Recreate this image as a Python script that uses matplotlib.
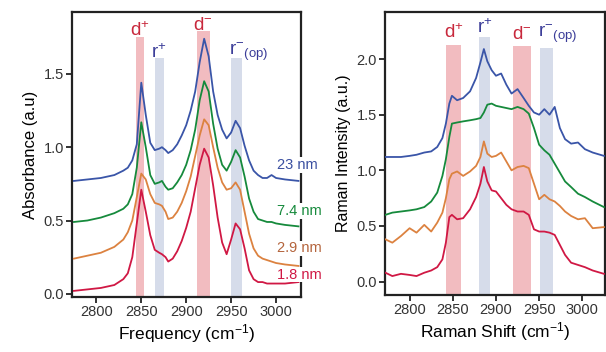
import matplotlib
matplotlib.use("Agg")
import matplotlib.pyplot as plt

plt.rcParams['font.family'] = ['Liberation Sans', 'DejaVu Sans']
plt.rcParams['mathtext.fontset'] = 'custom'
plt.rcParams['mathtext.rm'] = 'Liberation Sans'
plt.rcParams['mathtext.it'] = 'Liberation Sans:italic'

# --- IR absorbance (left) ---
ir_x = [2775, 2790, 2805, 2820, 2830, 2835, 2840, 2845, 2850, 2855, 2860, 2865, 2870, 2873,
        2877, 2880, 2885, 2890, 2895, 2900, 2905, 2910, 2915, 2920, 2925, 2930, 2935, 2940,
        2945, 2950, 2955, 2960, 2965, 2970, 2975, 2980, 2985, 2990, 2995, 3000, 3010, 3025]
ir_23 = [0.77, 0.78, 0.79, 0.81, 0.84, 0.86, 0.91, 1.02, 1.44, 1.22, 1.03, 0.98, 0.99, 1.00,
         0.98, 0.96, 0.98, 1.02, 1.08, 1.15, 1.25, 1.38, 1.58, 1.74, 1.62, 1.38, 1.22, 1.12,
         1.06, 1.10, 1.18, 1.13, 1.01, 0.91, 0.84, 0.81, 0.79, 0.79, 0.81, 0.79, 0.78, 0.77]
ir_74 = [0.49, 0.50, 0.52, 0.55, 0.58, 0.61, 0.68, 0.86, 1.17, 1.00, 0.81, 0.75, 0.76, 0.77,
         0.73, 0.71, 0.72, 0.76, 0.81, 0.88, 0.98, 1.12, 1.32, 1.45, 1.38, 1.16, 0.99, 0.88,
         0.84, 0.90, 0.98, 0.93, 0.80, 0.65, 0.56, 0.51, 0.50, 0.49, 0.49, 0.48, 0.47, 0.46]
ir_29 = [0.24, 0.26, 0.28, 0.32, 0.37, 0.42, 0.50, 0.66, 0.82, 0.78, 0.68, 0.62, 0.61, 0.60,
         0.56, 0.51, 0.52, 0.56, 0.62, 0.70, 0.80, 0.94, 1.08, 1.19, 1.15, 1.00, 0.86, 0.76,
         0.71, 0.72, 0.76, 0.71, 0.56, 0.41, 0.31, 0.26, 0.24, 0.23, 0.22, 0.21, 0.20, 0.19]
ir_18 = [0.02, 0.03, 0.04, 0.06, 0.10, 0.14, 0.25, 0.48, 0.71, 0.56, 0.40, 0.30, 0.28, 0.27,
         0.25, 0.22, 0.24, 0.29, 0.36, 0.45, 0.56, 0.72, 0.88, 0.99, 0.93, 0.74, 0.52, 0.35,
         0.27, 0.37, 0.48, 0.44, 0.31, 0.16, 0.10, 0.08, 0.08, 0.07, 0.07, 0.07, 0.07, 0.08]

# --- Raman (right) ---
ra_x = [2772, 2780, 2790, 2800, 2808, 2817, 2825, 2832, 2838, 2842, 2846, 2849, 2855, 2862,
        2870, 2877, 2882, 2886, 2890, 2895, 2900, 2906, 2912, 2918, 2925, 2932, 2938, 2944,
        2950, 2956, 2962, 2968, 2974, 2980, 2987, 2995, 3003, 3012, 3025]
ra_23 = [1.12, 1.12, 1.12, 1.13, 1.14, 1.16, 1.17, 1.21, 1.29, 1.42, 1.60, 1.67, 1.63, 1.65,
         1.71, 1.83, 1.97, 2.09, 1.98, 1.90, 1.85, 1.87, 1.77, 1.69, 1.73, 1.65, 1.58, 1.52,
         1.50, 1.55, 1.50, 1.57, 1.38, 1.28, 1.24, 1.25, 1.19, 1.16, 1.13]
ra_74 = [0.60, 0.62, 0.63, 0.64, 0.65, 0.67, 0.72, 0.80, 0.95, 1.10, 1.30, 1.42, 1.43, 1.44,
         1.45, 1.46, 1.47, 1.52, 1.59, 1.60, 1.58, 1.57, 1.56, 1.55, 1.57, 1.55, 1.51, 1.38,
         1.23, 1.18, 1.14, 1.06, 0.98, 0.90, 0.85, 0.79, 0.76, 0.72, 0.67]
ra_29 = [0.38, 0.35, 0.41, 0.48, 0.44, 0.51, 0.45, 0.53, 0.62, 0.75, 0.92, 0.97, 0.99, 0.95,
         0.99, 1.04, 1.12, 1.26, 1.15, 1.12, 1.13, 1.16, 1.08, 1.00, 1.03, 1.04, 1.02, 0.88,
         0.74, 0.78, 0.74, 0.72, 0.68, 0.63, 0.59, 0.56, 0.57, 0.48, 0.49]
ra_18 = [0.08, 0.05, 0.07, 0.06, 0.05, 0.08, 0.10, 0.13, 0.20, 0.35, 0.58, 0.60, 0.56, 0.57,
         0.65, 0.76, 0.88, 1.03, 0.90, 0.82, 0.81, 0.75, 0.69, 0.65, 0.63, 0.63, 0.60, 0.47,
         0.45, 0.45, 0.44, 0.42, 0.33, 0.24, 0.17, 0.15, 0.13, 0.10, 0.07]

# band ranges (start, end, top) and labels
band_names = ["d$^{+}$", "r$^{+}$", "d$^{-}$", "r$^{-}$$_{\\rm (op)}$"]
ir_bands = [(2844, 2853, 1.75), (2865, 2875, 1.61), (2912, 2926, 1.79), (2950, 2962, 1.61)]
ra_bands = [(2842, 2860, 2.13), (2880, 2893, 2.20), (2920, 2940, 2.12), (2951, 2966, 2.10)]

sizes = ["23 nm", "7.4 nm", "2.9 nm", "1.8 nm"]
size_y = [0.88, 0.565, 0.31, 0.13]

line_colors = ["#3a55a8", "#168a3c", "#dc8240", "#d01844"]
text_colors = ["#3a4fa0", "#168a3c", "#b4643c", "#d01844"]
band_colors = ["#f2bcc0", "#d6dcea", "#f2bcc0", "#d6dcea"]
name_colors = ["#c8283c", "#3a3c98", "#c8283c", "#3a3c98"]

fig = plt.figure(figsize=(6.06, 3.52), dpi=100)
ax1 = fig.add_axes([0.119, 0.157, 0.378, 0.808])
ax2 = fig.add_axes([0.636, 0.162, 0.362, 0.803])


def style_axes(ax):
    for s in ax.spines.values():
        s.set_linewidth(1.6)
        s.set_color("#222222")
    ax.tick_params(direction='out', length=4, width=1.3, labelsize=10.5,
                   colors="#222222", labelcolor="#333333", pad=2)


def draw_bands(ax, bands, ybot, offsets):
    for (a, b, top), nm, bc, tc, off in zip(bands, band_names, band_colors, name_colors, offsets):
        ax.bar((a + b) / 2, top - ybot, width=b - a, bottom=ybot, color=bc, zorder=1)
        if nm.startswith("r$^{-}"):
            ax.text(a - 2, top + off, nm, color=tc, fontsize=13.5, ha='left', va='bottom')
        else:
            ax.text((a + b) / 2, top + off, nm, color=tc, fontsize=13.5, ha='center', va='bottom')


# left panel
ybot1 = -0.02
draw_bands(ax1, ir_bands, ybot1, [-0.02, -0.03, -0.02, -0.04])
for ys, c in zip([ir_23, ir_74, ir_29, ir_18], line_colors):
    ax1.plot(ir_x, ys, color=c, lw=1.3, zorder=3)
for lab, y, c in zip(sizes, size_y, text_colors):
    ax1.text(3001, y, lab, color=c, fontsize=10.5, va='center', ha='left', zorder=5,
             clip_on=False, bbox=dict(facecolor='white', edgecolor='none', pad=0.5))
ax1.set_xlim(2773, 3028)
ax1.set_ylim(ybot1, 1.92)
ax1.set_xticks([2800, 2850, 2900, 2950, 3000])
ax1.set_yticks([0.0, 0.5, 1.0, 1.5])
ax1.set_yticklabels(["0.0", "0.5", "1.0", "1.5"])
ax1.set_xlabel("Frequency (cm$^{-1}$)", fontsize=12.5, labelpad=2)
ax1.set_ylabel("Absorbance (a.u)", fontsize=12, labelpad=4)
style_axes(ax1)

# right panel
ybot2 = -0.12
draw_bands(ax2, ra_bands, ybot2, [0.02, 0.0, 0.02, 0.02])
for ys, c in zip([ra_23, ra_74, ra_29, ra_18], line_colors):
    ax2.plot(ra_x, ys, color=c, lw=1.3, zorder=3)
ax2.set_xlim(2772, 3026)
ax2.set_ylim(ybot2, 2.42)
ax2.set_xticks([2800, 2850, 2900, 2950, 3000])
ax2.set_yticks([0.0, 0.5, 1.0, 1.5, 2.0])
ax2.set_yticklabels(["0.0", "0.5", "1.0", "1.5", "2.0"])
ax2.set_xlabel("Raman Shift (cm$^{-1}$)", fontsize=12.5, labelpad=2)
ax2.set_ylabel("Raman Intensity (a.u.)", fontsize=11.5, labelpad=4)
style_axes(ax2)

ax1.set_zorder(2)
fig.savefig("out.png", dpi=100)
